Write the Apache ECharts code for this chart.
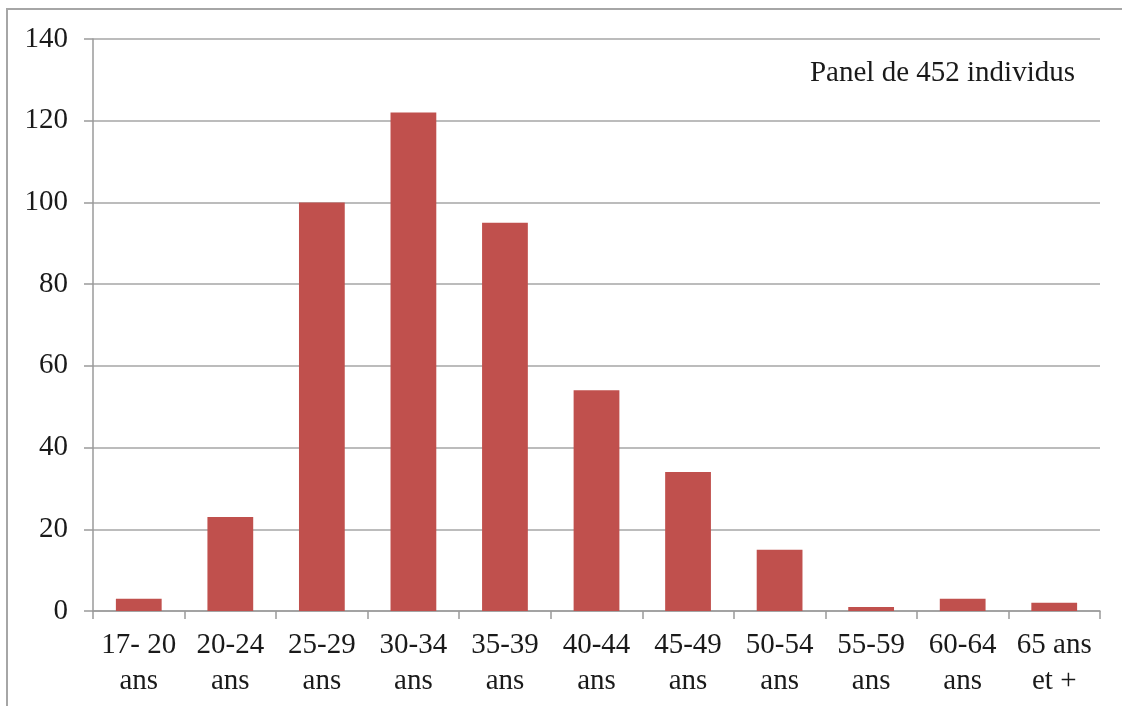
<!DOCTYPE html>
<html><head><meta charset="utf-8">
<script src="https://cdn.jsdelivr.net/npm/echarts@6/dist/echarts.min.js"></script>
<style>html,body{margin:0;padding:0;background:#fff}#c{width:1122px;height:706px}</style>
</head><body><div id="c"></div>
<script>
const categories = ['17- 20\nans','20-24\nans','25-29\nans','30-34\nans','35-39\nans','40-44\nans','45-49\nans','50-54\nans','55-59\nans','60-64\nans','65 ans\net +'];
const values = [3, 23, 100, 122, 95, 54, 34, 15, 1, 3, 2];
const yTicks = [0, 20, 40, 60, 80, 100, 120, 140];
const note = 'Panel de 452 individus';
const font = '"Liberation Serif", "Times New Roman", serif';
const chart = echarts.init(document.getElementById('c'));
chart.setOption({
  animation: false,
  backgroundColor: '#fff',
  grid: { left: 93, right: 22, top: 39, bottom: 95, containLabel: false },
  graphic: [
    { type: 'rect', shape: { x: 7, y: 9, width: 1130, height: 720 }, style: { fill: 'none', stroke: '#a6a6a6', lineWidth: 2 }, silent: true },
    { type: 'text', right: 47, top: 59, style: { text: note, font: '29px ' + font, fill: '#1a1a1a' } }
  ],
  xAxis: {
    type: 'category', data: categories,
    axisLine: { lineStyle: { color: '#9a9a9a', width: 1.5 } },
    axisTick: { show: true, length: 8, lineStyle: { color: '#9a9a9a', width: 1.5 } },
    axisLabel: { interval: 0, margin: 16, fontFamily: font, fontSize: 29, color: '#1a1a1a', lineHeight: 36 }
  },
  yAxis: {
    type: 'value', min: yTicks[0], max: yTicks[yTicks.length - 1], interval: 20,
    axisLine: { show: true, lineStyle: { color: '#9a9a9a', width: 1.5 } },
    axisTick: { show: true, length: 9, lineStyle: { color: '#9a9a9a', width: 1.5 } },
    splitLine: { lineStyle: { color: '#a6a6a6', width: 1.5 } },
    axisLabel: { margin: 25, fontFamily: font, fontSize: 29, color: '#1a1a1a' }
  },
  series: [{
    type: 'bar', data: values, barWidth: '50%',
    itemStyle: { color: '#c0504d' }
  }]
});
</script></body></html>
